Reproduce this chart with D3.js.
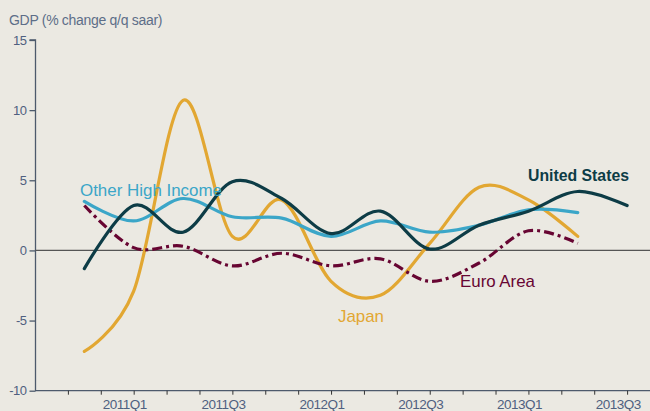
<!DOCTYPE html>
<html>
<head>
<meta charset="utf-8">
<script src="https://cdn.jsdelivr.net/npm/d3@7"></script>
<style>
html,body{margin:0;padding:0;background:#ebe9e2;}
svg{display:block;}
</style>
</head>
<body>
<svg id="chart" width="650" height="411"></svg>
<script>
// quarters plotted at mid-quarter month (months since Jan 2010)
const quarters = ["2010Q4","2011Q1","2011Q2","2011Q3","2011Q4","2012Q1","2012Q2","2012Q3","2012Q4","2013Q1","2013Q2","2013Q3"];
const quarterMonths = [10,13,16,19,22,25,28,31,34,37,40,43];
const unitedStates = [-1.3, 3.2, 1.3, 4.9, 3.7, 1.2, 2.8, 0.1, 1.8, 2.8, 4.2, 3.2];
const japan        = [-7.2, -2.9, 10.7, 1.0, 3.6, -2.2, -3.2, 0.5, 4.5, 3.6, 1.0];
const otherHigh    = [3.5, 2.1, 3.7, 2.4, 2.3, 1.0, 2.1, 1.3, 1.8, 2.9, 2.7];
const euroArea     = [3.2, 0.2, 0.3, -1.1, -0.2, -1.1, -0.6, -2.2, -0.9, 1.4, 0.5];
const yTicks = [-10, -5, 0, 5, 10, 15];
const xTickMonths = [9,11,13,15,17,19,21,23,25,27,29,31,33,35,37,39,41,43,45];
const xLabels = ["2011Q1","2011Q3","2012Q1","2012Q3","2013Q1","2013Q3"];
const xLabelMonths = [12,18,24,30,36,42];

const svg = d3.select("#chart");
const x = d3.scaleLinear().domain([7, 45]).range([35, 660]);
const y = d3.scaleLinear().domain([-10, 15]).range([390.7, 40]);
const axisColor = "#4d5a6c";
const textColor = "#4f6080";

// y axis
const yAxis = svg.append("g").attr("transform", "translate(35.5,0)")
  .call(d3.axisLeft(y).tickValues(yTicks).tickSize(6).tickPadding(3).tickFormat(d3.format("d")));
yAxis.select(".domain").attr("stroke", axisColor).attr("stroke-width", 1.3).attr("d", `M-6,${y(15)}H0V${y(-10)}`);
yAxis.selectAll(".tick line").attr("stroke", axisColor).attr("stroke-width", 1.3);
yAxis.selectAll(".tick text").attr("fill", textColor).attr("font-family", "Arial, 'Liberation Sans', sans-serif").attr("font-size", 13).attr("letter-spacing", -0.5)
  .text(d => d < 0 ? "-" + Math.abs(d) : d);

// x axis
const xAxis = svg.append("g").attr("transform", `translate(0,${y(-10)})`)
  .call(d3.axisBottom(x).tickValues(xTickMonths).tickSize(4).tickFormat(""));
xAxis.select(".domain").attr("stroke", axisColor).attr("stroke-width", 1.3).attr("d", `M35,0H650`);
xAxis.selectAll(".tick line").attr("stroke", "#333").attr("stroke-width", 1);

svg.append("g").selectAll("text").data(xLabels).join("text")
  .attr("x", (d, i) => x(xLabelMonths[i]) + 7.5)
  .attr("y", 408.5)
  .attr("text-anchor", "middle")
  .attr("fill", textColor)
  .attr("font-family", "Arial, 'Liberation Sans', sans-serif")
  .attr("font-size", 13.5)
  .attr("letter-spacing", -0.5)
  .text(d => d);

// zero line
svg.append("line").attr("x1", 35.5).attr("x2", 650).attr("y1", y(0)).attr("y2", y(0))
  .attr("stroke", "#555").attr("stroke-width", 1.2);

// title
svg.append("text").attr("x", 9).attr("y", 25).attr("fill", "#5d6e88")
  .attr("font-family", "Arial, 'Liberation Sans', sans-serif").attr("font-size", 14)
  .attr("letter-spacing", -0.3)
  .text("GDP (% change q/q saar)");

const line = d3.line().x(d => x(d[0])).y(d => y(d[1])).curve(d3.curveCatmullRom.alpha(0));
const series = [
  {name: "Japan", vals: japan, color: "#e2a732", dash: null},
  {name: "Other High Income", vals: otherHigh, color: "#3ba6c8", dash: null},
  {name: "Euro Area", vals: euroArea, color: "#670532", dash: "10,4,3,4"},
  {name: "United States", vals: unitedStates, color: "#0d3c46", dash: null}
];
svg.append("g").selectAll("path").data(series).join("path")
  .attr("d", s => line(s.vals.map((v, i) => [quarterMonths[i], v])))
  .attr("fill", "none")
  .attr("stroke", s => s.color)
  .attr("stroke-width", 3.2)
  .attr("stroke-linecap", s => s.dash ? "butt" : "round")
  .attr("stroke-dasharray", s => s.dash);

// series labels
const labels = [
  {t: "United States", x: 528, y: 181, w: 101, c: "#0d3c46", b: "bold"},
  {t: "Other High Income", x: 80, y: 196, w: 142, c: "#3ba6c8", b: "normal"},
  {t: "Euro Area", x: 460, y: 287, w: 75, c: "#670532", b: "normal"},
  {t: "Japan", x: 338, y: 322, w: 46, c: "#e2a732", b: "normal"}
];
svg.append("g").selectAll("text").data(labels).join("text")
  .attr("x", d => d.x).attr("y", d => d.y)
  .attr("fill", d => d.c)
  .attr("font-family", "Arial, 'Liberation Sans', sans-serif")
  .attr("font-size", 17)
  .attr("font-weight", d => d.b)
  .attr("textLength", d => d.w)
  .attr("lengthAdjust", "spacingAndGlyphs")
  .text(d => d.t);
</script>
</body>
</html>
